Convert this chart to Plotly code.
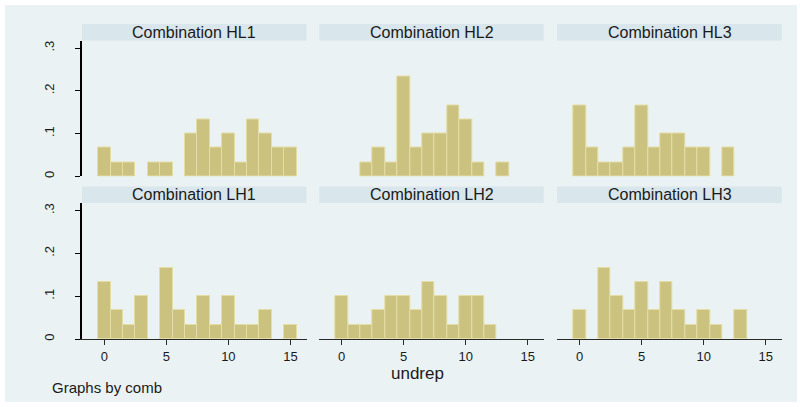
import plotly.graph_objects as go

# Histogram of undrep by comb (density, bin width 1)
bins = list(range(16))
groups = ["HL1", "HL2", "HL3", "LH1", "LH2", "LH3"]
counts_HL1 = [2, 1, 1, 0, 1, 1, 0, 3, 4, 2, 3, 1, 4, 3, 2, 2]
counts_HL2 = [0, 0, 1, 2, 1, 7, 2, 3, 3, 5, 4, 1, 0, 1, 0, 0]
counts_HL3 = [5, 2, 1, 1, 2, 5, 2, 3, 3, 2, 2, 0, 2, 0, 0, 0]
counts_LH1 = [4, 2, 1, 3, 0, 5, 2, 1, 3, 1, 3, 1, 1, 2, 0, 1]
counts_LH2 = [3, 1, 1, 2, 3, 3, 2, 4, 3, 1, 3, 3, 1, 0, 0, 0]
counts_LH3 = [2, 0, 5, 3, 2, 4, 2, 4, 2, 1, 2, 1, 0, 2, 0, 0]
all_counts = [counts_HL1, counts_HL2, counts_HL3, counts_LH1, counts_LH2, counts_LH3]
y_ticks = [0, 0.1, 0.2, 0.3]
y_ticktext = ["0", ".1", ".2", ".3"]
x_ticks = [0, 5, 10, 15]

W, H = 800, 407
BG = "#EAF2F3"
STRIP = "#D9E6EB"
BAR = "#CAC27E"
BAR_EDGE = "#E4DDA6"
FONT = "Liberation Sans, Arial, sans-serif"
TXT = "#1a1a1a"

col_left = [82, 319.3, 557.3]
col_w = 224.5
row_top = [40.7, 204.0]
row_bot = [177.3, 340.7]
strip_h = 16.7


def px_x(v):
    return v / W


def px_y(v):
    return 1 - v / H


fig = go.Figure()
layout = dict(
    width=W, height=H, margin=dict(l=0, r=0, t=0, b=0),
    paper_bgcolor="white", plot_bgcolor="white", showlegend=False,
    font=dict(family=FONT, color=TXT),
    bargap=0,
)
shapes = [dict(type="rect", xref="paper", yref="paper",
               x0=px_x(5), x1=px_x(797), y0=px_y(404), y1=px_y(5),
               fillcolor=BG, line=dict(width=0), layer="below")]
annotations = []

for i, (name, cnt) in enumerate(zip(groups, all_counts)):
    r, c = divmod(i, 3)
    n = sum(cnt)
    xs = [b for b, k in zip(bins, cnt) if k > 0]
    ys = [k / n for k in cnt if k > 0]
    ax = "" if i == 0 else str(i + 1)
    fig.add_trace(go.Bar(
        x=xs, y=ys, width=1, xaxis="x" + ax, yaxis="y" + ax,
        marker=dict(color=BAR, line=dict(color=BAR_EDGE, width=1)),
        hoverinfo="x+y",
    ))
    x0, x1 = px_x(col_left[c]), px_x(col_left[c] + col_w)
    y0, y1 = px_y(row_bot[r]), px_y(row_top[r])
    bottom = r == 1
    left = c == 0
    layout["xaxis" + ax] = dict(
        domain=[x0, x1], anchor="y" + ax, range=[-1.8, 16.3],
        showgrid=False, zeroline=False,
        showline=bottom, linecolor="#2a2a2a", linewidth=1.2,
        tickvals=x_ticks if bottom else [], ticks="outside" if bottom else "",
        ticklen=5, tickcolor="#2a2a2a", tickwidth=1.2, showticklabels=bottom,
        tickfont=dict(size=13, color=TXT),
    )
    layout["yaxis" + ax] = dict(
        domain=[y0, y1], anchor="x" + ax, range=[0, 0.3177],
        showgrid=False, zeroline=False,
        showline=left, linecolor="black", linewidth=1.5,
        tickvals=y_ticks if left else [], ticktext=y_ticktext,
        ticks="outside" if left else "", ticklen=5, tickcolor="black",
        tickwidth=1.2, showticklabels=left, tickangle=-90,
        ticklabelstandoff=16, tickfont=dict(size=13, color=TXT),
        minor=dict(tickvals=[0.1, 0.2], showgrid=True, gridcolor=BG,
                   gridwidth=1, ticklen=0),
    )
    # panel title strip
    shapes.append(dict(type="rect", xref="paper", yref="paper",
                       x0=x0, x1=x1, y0=y1, y1=px_y(row_top[r] - strip_h),
                       fillcolor=STRIP, line=dict(width=0), layer="below"))
    annotations.append(dict(
        text="Combination " + name, xref="paper", yref="paper",
        x=(x0 + x1) / 2, y=px_y(row_top[r] - strip_h / 2),
        xanchor="center", yanchor="middle", showarrow=False,
        font=dict(size=16, color=TXT, family=FONT),
    ))

annotations.append(dict(text="undrep", xref="paper", yref="paper",
                        x=px_x(417), y=px_y(375), xanchor="center",
                        yanchor="middle", showarrow=False,
                        font=dict(size=17, color=TXT, family=FONT)))
annotations.append(dict(text="Graphs by comb", xref="paper", yref="paper",
                        x=px_x(50), y=px_y(389), xanchor="left",
                        yanchor="middle", showarrow=False,
                        font=dict(size=15, color=TXT, family=FONT)))

layout["shapes"] = shapes
layout["annotations"] = annotations
fig.update_layout(**layout)
fig.write_html("out.html")
